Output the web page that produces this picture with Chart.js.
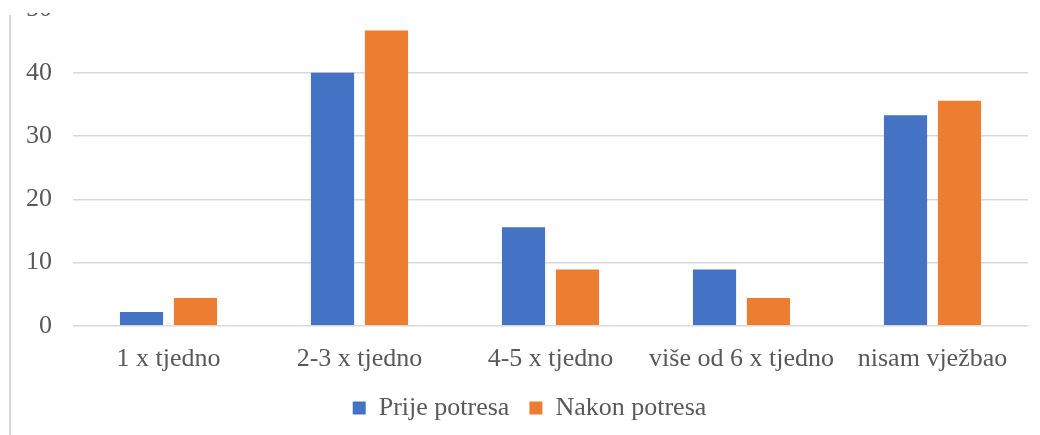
<!DOCTYPE html>
<html>
<head>
<meta charset="utf-8">
<script src="https://cdn.jsdelivr.net/npm/chart.js@4"></script>
<style>
  html, body { margin: 0; padding: 0; background: #fff; }
  #wrap { position: relative; width: 1040px; height: 435px; overflow: hidden; }
  #box { position: absolute; left: 0; top: -27px; width: 1040px; height: 458px; }
  #cover { position: absolute; left: 0; top: 0; width: 1040px; height: 13px; background: #fff; }
  #edge { position: absolute; left: 9px; top: 15px; width: 2px; height: 420px; background: #d9d9d9; }
</style>
</head>
<body>
<div id="wrap">
  <div id="box"><canvas id="chart"></canvas></div>
  <div id="cover"></div>
  <div id="edge"></div>
</div>
<script>
// Podaci
const categories = ['1 x tjedno', '2-3 x tjedno', '4-5 x tjedno', 'više od 6 x tjedno', 'nisam vježbao'];
const prijePotresa = [2.2, 40, 15.6, 8.9, 33.3];
const nakonPotresa = [4.4, 46.7, 8.9, 4.4, 35.6];
const yTicks = [0, 10, 20, 30, 40, 50];

Chart.defaults.font.family = '"Liberation Serif", "Times New Roman", serif';
Chart.defaults.font.size = 26;
Chart.defaults.color = '#595959';

// legenda je malo pomaknuta udesno
const legendShift = {
    id: 'legendShift',
    afterLayout(chart) {
        chart.legend.left += 13;
        chart.legend.right += 13;
    }
};

new Chart(document.getElementById('chart'), {
    type: 'bar',
    data: {
        labels: categories,
        datasets: [{
            label: 'Prije potresa',
            data: prijePotresa,
            backgroundColor: '#4472C4'
        }, {
            label: 'Nakon potresa',
            data: nakonPotresa,
            backgroundColor: '#ED7D31'
        }]
    },
    options: {
        responsive: true,
        maintainAspectRatio: false,
        animation: false,
        categoryPercentage: 0.565,
        barPercentage: 0.8,
        layout: { padding: { left: 5, right: 12, top: 0, bottom: 0 } },
        plugins: {
            legend: {
                position: 'bottom',
                labels: { boxWidth: 13, boxHeight: 13, padding: 20 }
            },
            tooltip: { enabled: false }
        },
        scales: {
            x: {
                grid: { display: false, drawTicks: false },
                border: { display: false },
                ticks: { padding: 18, maxRotation: 0, autoSkip: false },
                afterFit: function(axis) { axis.height -= 18; }
            },
            y: {
                min: 0,
                max: 50,
                afterBuildTicks: function(axis) {
                    axis.ticks = yTicks.map(v => ({ value: v }));
                },
                grid: { color: '#D9D9D9', lineWidth: 1.5, drawTicks: false },
                border: { display: false },
                ticks: { padding: 21 }
            }
        }
    },
    plugins: [legendShift]
});
</script>
</body>
</html>
